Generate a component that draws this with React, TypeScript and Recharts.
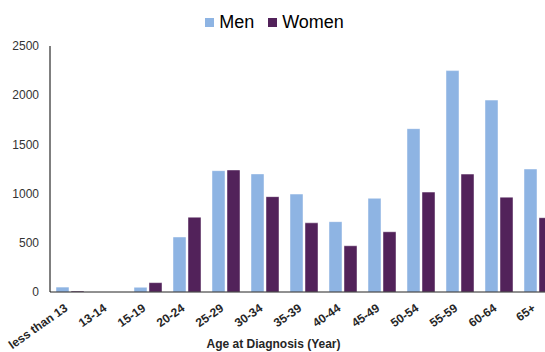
import { BarChart, Bar, XAxis, YAxis, Legend } from 'recharts'

const AGE_GROUPS = ['less than 13', '13-14', '15-19', '20-24', '25-29', '30-34', '35-39', '40-44', '45-49', '50-54', '55-59', '60-64', '65+']
const MEN = [50, 0, 48, 559, 1233, 1200, 995, 715, 952, 1660, 2250, 1950, 1250]
const WOMEN = [10, 0, 95, 760, 1240, 969, 703, 470, 612, 1015, 1198, 964, 755]
const Y_TICKS = [0, 500, 1000, 1500, 2000, 2500]

const SERIES = [
  { key: 'men', name: 'Men', color: '#8EB4E3' },
  { key: 'women', name: 'Women', color: '#52225A' },
]

const FONT = '"Liberation Sans", Arial, sans-serif'

const data = AGE_GROUPS.map((age, i) => ({ age, men: MEN[i], women: WOMEN[i] }))

// rotated, bold category labels, anchored at their end
function AgeTick(props: any) {
  const { x, y, payload } = props
  const tx = x - 1
  const ty = y + 10
  return (
    <text
      x={tx}
      y={ty}
      transform={`rotate(-35, ${tx}, ${ty})`}
      textAnchor="end"
      fontFamily={FONT}
      fontSize={12}
      fontWeight="bold"
      fill="#262626"
    >
      {payload.value}
    </text>
  )
}

function LegendBox() {
  return (
    <div style={{ display: 'flex', justifyContent: 'center', gap: 14, fontFamily: FONT, fontSize: 18, color: '#000', lineHeight: '20px' }}>
      {SERIES.map((s) => (
        <div key={s.key} style={{ display: 'flex', alignItems: 'center', gap: 5 }}>
          <span style={{ width: 9, height: 9, background: s.color, display: 'inline-block' }} />
          <span>{s.name}</span>
        </div>
      ))}
    </div>
  )
}

export default function App() {
  return (
    <div style={{ position: 'fixed', left: 0, top: 0, width: 545, height: 352, overflow: 'hidden', background: '#fff' }}>
      <BarChart
        width={560}
        height={352}
        data={data}
        margin={{ top: 26, right: 3, left: 0, bottom: 0 }}
        barCategoryGap={6}
        barGap={2}
      >
        <Legend
          verticalAlign="top"
          content={() => <LegendBox />}
          wrapperStyle={{ top: 12, left: 2, width: 545 }}
        />
        <YAxis
          width={50}
          domain={[0, 2500]}
          ticks={Y_TICKS}
          tickLine={false}
          tickMargin={5}
          axisLine={{ stroke: '#000' }}
          tick={{ fontFamily: FONT, fontSize: 12, fill: '#333' }}
        />
        <XAxis
          dataKey="age"
          height={60}
          interval={0}
          tickLine={false}
          axisLine={{ stroke: '#222' }}
          tick={<AgeTick />}
          label={{ value: 'Age at Diagnosis (Year)', position: 'insideBottom', offset: 4, dx: -30, style: { fontFamily: FONT, fontSize: 12, fontWeight: 'bold', fill: '#262626' } }}
        />
        {SERIES.map((s) => (
          <Bar
            key={s.key}
            dataKey={s.key}
            name={s.name}
            fill={s.color}
            stroke="#ffffff"
            strokeOpacity={0.45}
            isAnimationActive={false}
          />
        ))}
      </BarChart>
    </div>
  )
}
